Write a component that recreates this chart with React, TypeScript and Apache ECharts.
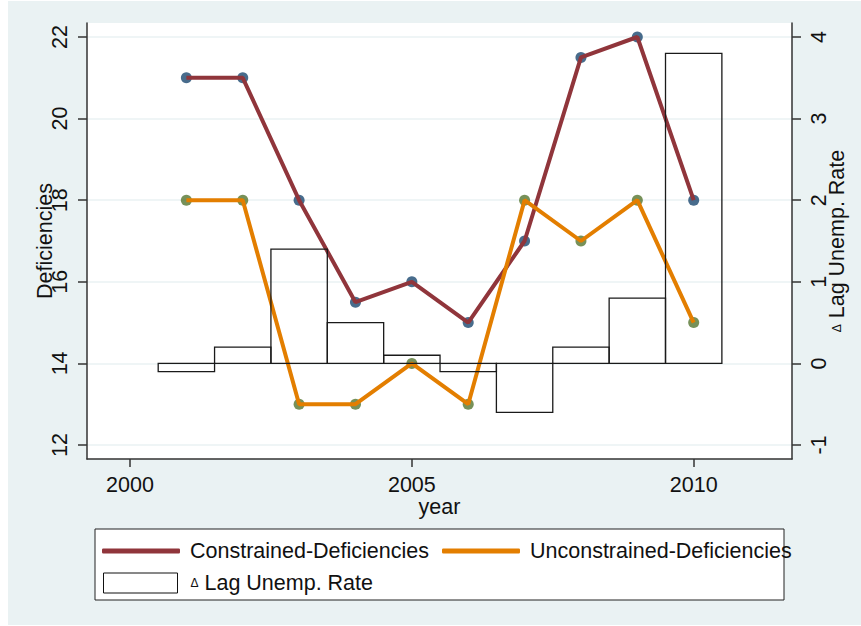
import React, { useEffect, useRef } from "react";
import * as echarts from "echarts";

const years = [2001, 2002, 2003, 2004, 2005, 2006, 2007, 2008, 2009, 2010];
const constrained = [21, 21, 18, 15.5, 16, 15, 17, 21.5, 22, 18];
const unconstrained = [18, 18, 13, 13, 14, 13, 18, 17, 18, 15];
const lagUnemp = [-0.1, 0.2, 1.4, 0.5, 0.1, -0.1, -0.6, 0.2, 0.8, 3.8];
const xTicks = [2000, 2005, 2010];
const leftTicks = [12, 14, 16, 18, 20, 22];
const rightTicks = [-1, 0, 1, 2, 3, 4];

const NAME_C = "Constrained-Deficiencies";
const NAME_U = "Unconstrained-Deficiencies";
const NAME_B = "Δ Lag Unemp. Rate";

const FONT = 'Arial, "Liberation Sans", sans-serif';
const BG = "#eaf2f3";
const MAROON = "#90353b";
const ORANGE = "#e37e00";
const NAVY = "#1a476f";
const GREEN = "#55752f";
const AXIS = "#333333";
const TXT = "#111111";
const FS = 21.5;

export default function App() {
  const ref = useRef<HTMLDivElement>(null);
  useEffect(() => {
    if (!ref.current) return;
    const chart = echarts.init(ref.current, null, { renderer: "svg" });
    const axisLineStyle = { color: AXIS, width: 1.5 };
    const labelStyle = { color: TXT, fontSize: FS, fontFamily: FONT };
    chart.setOption({
      animation: false,
      backgroundColor: BG,
      textStyle: { fontFamily: FONT },
      grid: {
        left: 79,
        top: 22,
        width: 705,
        height: 436,
        outerBoundsMode: "none",
        show: true,
        backgroundColor: "#ffffff",
        borderWidth: 0,
      },
      xAxis: {
        type: "value",
        min: 1999.237,
        max: 2011.744,
        axisLine: { show: true, onZero: false, lineStyle: axisLineStyle },
        axisTick: { show: true, length: 8, customValues: xTicks, lineStyle: axisLineStyle },
        axisLabel: {
          customValues: xTicks,
          margin: 15,
          formatter: (v: number) => String(Math.round(v)),
          ...labelStyle,
        },
        splitLine: { show: false },
        name: "year",
        nameLocation: "middle",
        nameMoveOverlap: false,
        nameGap: 37,
        nameTextStyle: { ...labelStyle },
      },
      yAxis: [
        {
          type: "value",
          position: "left",
          min: 11.657,
          max: 22.343,
          axisLine: { show: true, lineStyle: axisLineStyle },
          axisTick: { show: true, length: 9, customValues: leftTicks, lineStyle: axisLineStyle },
          axisLabel: { customValues: leftTicks, rotate: 90, margin: 16, ...labelStyle },
          splitLine: { show: true, lineStyle: { color: BG, width: 1.5 } },
          name: "Deficiencies",
          nameLocation: "middle",
          nameMoveOverlap: false,
          nameRotate: 90,
          nameGap: 31,
          nameTextStyle: { ...labelStyle },
        },
        {
          type: "value",
          position: "right",
          min: -1.1716,
          max: 4.1716,
          axisLine: { show: true, lineStyle: axisLineStyle },
          axisTick: { show: true, length: 9, customValues: rightTicks, lineStyle: axisLineStyle },
          axisLabel: { customValues: rightTicks, rotate: 90, margin: 16, ...labelStyle },
          splitLine: { show: false },
          name: "{d|Δ} Lag Unemp. Rate",
          nameLocation: "middle",
          nameMoveOverlap: false,
          nameRotate: 90,
          nameGap: 34,
          nameTextStyle: {
            ...labelStyle,
            rich: { d: { fontSize: 12, color: TXT, fontFamily: FONT } },
          },
        },
      ],
      legend: [
        {
          left: 94,
          top: 539,
          itemWidth: 78,
          itemHeight: 5,
          padding: 0,
          textStyle: { ...labelStyle, padding: [0, 0, 0, 5] },
          data: [{ name: NAME_C, icon: "roundRect", itemStyle: { color: MAROON, borderWidth: 0 } }],
        },
        {
          left: 434,
          top: 539,
          itemWidth: 78,
          itemHeight: 5,
          padding: 0,
          textStyle: { ...labelStyle, padding: [0, 0, 0, 5] },
          data: [{ name: NAME_U, icon: "roundRect", itemStyle: { color: ORANGE, borderWidth: 0 } }],
        },
        {
          left: 95,
          top: 571,
          itemWidth: 74,
          itemHeight: 20,
          padding: 0,
          formatter: () => "{d|Δ} Lag Unemp. Rate",
          textStyle: {
            ...labelStyle,
            padding: [0, 0, 0, 8],
            rich: { d: { fontSize: 12, color: TXT, fontFamily: FONT } },
          },
          data: [
            {
              name: NAME_B,
              icon: "rect",
              itemStyle: { color: "#ffffff", borderColor: "#111111", borderWidth: 1 },
            },
          ],
        },
      ],
      graphic: [
        {
          type: "rect",
          z: 1,
          shape: { x: 87, y: 528, width: 689, height: 71 },
          style: { fill: "#ffffff", stroke: "#222222", lineWidth: 1 },
        },
      ],
      series: [
        {
          name: "c-markers",
          type: "scatter",
          z: 2,
          symbolSize: 11,
          itemStyle: { color: NAVY },
          data: years.map((y, i) => [y, constrained[i]]),
        },
        {
          name: NAME_C,
          type: "line",
          z: 3,
          showSymbol: false,
          symbol: "none",
          itemStyle: { color: MAROON },
          lineStyle: { color: MAROON, width: 4 },
          data: years.map((y, i) => [y, constrained[i]]),
        },
        {
          name: "u-markers",
          type: "scatter",
          z: 4,
          symbolSize: 11,
          itemStyle: { color: GREEN },
          data: years.map((y, i) => [y, unconstrained[i]]),
        },
        {
          name: NAME_U,
          type: "line",
          z: 5,
          showSymbol: false,
          symbol: "none",
          itemStyle: { color: ORANGE },
          lineStyle: { color: ORANGE, width: 4 },
          data: years.map((y, i) => [y, unconstrained[i]]),
        },
        {
          name: NAME_B,
          type: "custom",
          z: 6,
          yAxisIndex: 1,
          itemStyle: { color: "#ffffff" },
          encode: { x: 0, y: 1 },
          data: years.map((y, i) => [y, lagUnemp[i]]),
          renderItem: (params: any, api: any) => {
            const x = api.value(0);
            const v = api.value(1);
            const p0 = api.coord([x - 0.5, 0]);
            const p1 = api.coord([x + 0.5, v]);
            return {
              type: "rect",
              shape: {
                x: p0[0],
                y: Math.min(p0[1], p1[1]),
                width: p1[0] - p0[0],
                height: Math.abs(p1[1] - p0[1]),
              },
              style: { fill: "none", stroke: "#1a1a1a", lineWidth: 1.3 },
            };
          },
        },
      ],
    });
    return () => chart.dispose();
  }, []);
  return (
    <div style={{ position: "absolute", left: 0, top: 0, width: 861, height: 626, background: "#ffffff" }}>
      <div ref={ref} style={{ position: "absolute", left: 8, top: 1, width: 853, height: 624 }} />
    </div>
  );
}
